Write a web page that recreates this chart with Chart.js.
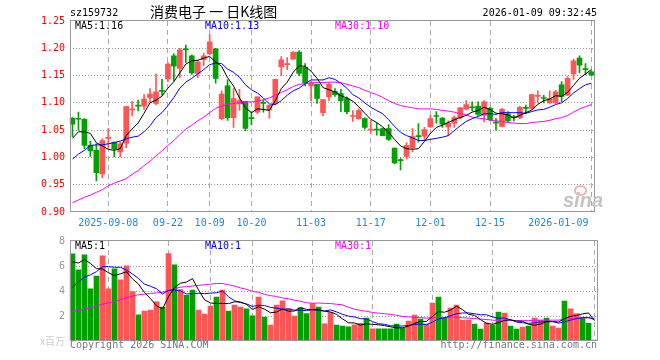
<!DOCTYPE html>
<html>
<head>
<meta charset="utf-8">
<script src="https://cdn.jsdelivr.net/npm/chart.js@4.4.1/dist/chart.umd.min.js"></script>
<style>
body { margin: 0; background: #fff; width: 660px; height: 360px; position: relative; overflow: hidden;
       font-family: "DejaVu Sans Mono", monospace; font-size: 10px; }
canvas { position: absolute; left: 0; top: 0; }
.t { position: absolute; white-space: nowrap; line-height: 12px; }
</style>
</head>
<body>
<canvas id="kline" width="660" height="360"></canvas>
<canvas id="vol" width="660" height="360"></canvas>

<div class="t" style="left:70px;top:7px;color:#000">sz159732</div>
<div class="t" style="left:150px;top:3px;font:14px/16px 'Noto Sans CJK SC';color:#000">消费电子 一 日K线图</div>
<div class="t" style="right:63px;top:7px;color:#000">2026-01-09 09:32:45</div>

<div class="t" style="left:75px;top:20px;color:#000">MA5:1.16</div>
<div class="t" style="left:205px;top:20px;color:#0000f0">MA10:1.13</div>
<div class="t" style="left:335px;top:20px;color:#f0f">MA30:1.10</div>

<div class="t" style="left:75px;top:240px;color:#000">MA5:1</div>
<div class="t" style="left:205px;top:240px;color:#0000f0">MA10:1</div>
<div class="t" style="left:335px;top:240px;color:#f0f">MA30:1</div>

<div class="t" style="left:70px;top:339px;color:#777">Copyright 2026 SINA.COM</div>
<div class="t" style="right:63px;top:339px;color:#777">http://finance.sina.com.cn</div>

<div style="position:absolute;left:574px;top:185px;width:9px;height:7px;border:2px solid #f4b0b0;border-radius:50%"></div>
<div class="t" style="left:563px;top:190px;font:italic bold 20px/20px 'Liberation Sans';color:#c4c4c4">sina</div>

<script>
// trading days shown
const dates = [
  '2025-08-29',
  '2025-09-01','2025-09-02','2025-09-03','2025-09-04','2025-09-05',
  '2025-09-08','2025-09-09','2025-09-10','2025-09-11','2025-09-12',
  '2025-09-15','2025-09-16','2025-09-17','2025-09-18','2025-09-19',
  '2025-09-22','2025-09-23','2025-09-24','2025-09-25','2025-09-26',
  '2025-09-29','2025-09-30',
  '2025-10-09','2025-10-10',
  '2025-10-13','2025-10-14','2025-10-15','2025-10-16','2025-10-17',
  '2025-10-20','2025-10-21','2025-10-22','2025-10-23','2025-10-24',
  '2025-10-27','2025-10-28','2025-10-29','2025-10-30','2025-10-31',
  '2025-11-03','2025-11-04','2025-11-05','2025-11-06','2025-11-07',
  '2025-11-10','2025-11-11','2025-11-12','2025-11-13','2025-11-14',
  '2025-11-17','2025-11-18','2025-11-19','2025-11-20','2025-11-21',
  '2025-11-24','2025-11-25','2025-11-26','2025-11-27','2025-11-28',
  '2025-12-01','2025-12-02','2025-12-03','2025-12-04','2025-12-05',
  '2025-12-08','2025-12-09','2025-12-10','2025-12-11','2025-12-12',
  '2025-12-15','2025-12-16','2025-12-17','2025-12-18','2025-12-19',
  '2025-12-22','2025-12-23','2025-12-24','2025-12-25','2025-12-26',
  '2025-12-29','2025-12-30','2025-12-31',
  '2026-01-05','2026-01-06','2026-01-07','2026-01-08','2026-01-09'
];

// labelled dates on the x axis and their text
const tickDates = ['2025-09-08','2025-09-22','2025-10-09','2025-10-20','2025-11-03','2025-11-17','2025-12-01','2025-12-15','2026-01-09'];
const tickTexts = ['2025-09-08','09-22','10-09','10-20','11-03','11-17','12-01','12-15','2026-01-09           '];

const openP = [
  1.072,1.071,1.070,1.022,1.013,0.970,1.035,1.028,1.010,1.026,
  1.087,1.095,1.094,1.109,1.099,1.122,1.144,1.186,1.163,1.198,
  1.186,1.154,1.179,1.190,1.199,1.071,1.131,1.073,1.098,1.103,
  1.072,1.083,1.100,1.087,1.098,1.166,1.170,1.180,1.193,1.165,
  1.131,1.134,1.082,1.111,1.121,1.117,1.108,1.075,1.071,1.071,
  1.050,1.051,1.053,1.053,1.017,0.995,1.002,1.018,1.039,1.039,
  1.056,1.076,1.072,1.056,1.063,1.073,1.089,1.092,1.094,1.077,
  1.090,1.064,1.057,1.080,1.074,1.073,1.091,1.090,1.112,1.109,
  1.100,1.100,1.133,1.114,1.153,1.182,1.162,1.157
];
const highP = [
  1.073,1.083,1.071,1.030,1.025,1.034,1.053,1.028,1.028,1.094,
  1.103,1.105,1.115,1.126,1.153,1.143,1.174,1.190,1.200,1.206,
  1.188,1.178,1.191,1.225,1.200,1.122,1.142,1.126,1.125,1.103,
  1.083,1.111,1.105,1.096,1.143,1.185,1.183,1.194,1.196,1.172,
  1.140,1.134,1.106,1.137,1.126,1.125,1.111,1.086,1.089,1.073,
  1.068,1.063,1.054,1.060,1.017,0.999,1.027,1.053,1.062,1.055,
  1.077,1.084,1.073,1.067,1.076,1.092,1.104,1.102,1.102,1.104,
  1.092,1.071,1.090,1.084,1.077,1.094,1.096,1.116,1.122,1.114,
  1.122,1.123,1.139,1.148,1.180,1.186,1.172,1.158
];
const lowP = [
  1.038,1.050,1.016,1.002,0.957,0.963,1.019,1.001,1.001,1.018,
  1.076,1.085,1.088,1.101,1.096,1.114,1.139,1.140,1.146,1.174,
  1.152,1.146,1.168,1.188,1.136,1.069,1.068,1.055,1.086,1.049,
  1.060,1.080,1.083,1.072,1.096,1.150,1.161,1.180,1.150,1.131,
  1.103,1.099,1.076,1.104,1.112,1.084,1.080,1.066,1.070,1.052,
  1.044,1.041,1.040,1.031,0.988,0.977,0.997,1.010,1.028,1.031,
  1.055,1.063,1.055,1.040,1.055,1.071,1.087,1.085,1.077,1.065,
  1.068,1.050,1.056,1.065,1.067,1.071,1.080,1.088,1.100,1.100,
  1.099,1.099,1.102,1.113,1.143,1.155,1.151,1.150
];
const closeP = [
  1.061,1.070,1.022,1.012,0.972,1.031,1.036,1.016,1.025,1.093,
  1.088,1.094,1.107,1.116,1.120,1.121,1.171,1.167,1.197,1.197,
  1.155,1.175,1.186,1.212,1.145,1.116,1.073,1.108,1.104,1.053,
  1.071,1.111,1.099,1.096,1.143,1.179,1.171,1.193,1.154,1.136,
  1.136,1.108,1.106,1.134,1.115,1.104,1.084,1.076,1.086,1.055,
  1.051,1.050,1.040,1.033,0.990,0.994,1.022,1.038,1.038,1.051,
  1.071,1.075,1.061,1.063,1.073,1.091,1.097,1.091,1.079,1.102,
  1.069,1.063,1.088,1.067,1.073,1.092,1.090,1.115,1.113,1.108,
  1.108,1.120,1.112,1.145,1.177,1.169,1.161,1.151
];

// moving average lines
const ma5 = [
  1.035,1.047,1.047,1.044,1.027,1.021,1.015,1.013,1.016,1.040,
  1.052,1.063,1.081,1.100,1.105,1.112,1.127,1.139,1.155,1.171,
  1.177,1.178,1.182,1.185,1.175,1.167,1.146,1.131,1.109,1.091,
  1.082,1.089,1.088,1.086,1.104,1.126,1.138,1.156,1.168,1.167,
  1.158,1.145,1.128,1.124,1.120,1.113,1.109,1.103,1.093,1.081,
  1.070,1.064,1.056,1.046,1.033,1.021,1.016,1.015,1.016,1.029,
  1.044,1.055,1.059,1.064,1.069,1.073,1.077,1.083,1.086,1.092,
  1.088,1.081,1.080,1.078,1.072,1.077,1.082,1.087,1.097,1.104,
  1.107,1.113,1.112,1.119,1.132,1.145,1.153,1.161
];
const ma10 = [
  0.997,1.006,1.013,1.022,1.023,1.023,1.025,1.027,1.030,1.034,
  1.037,1.039,1.047,1.058,1.073,1.082,1.095,1.110,1.127,1.138,
  1.145,1.153,1.161,1.170,1.173,1.172,1.162,1.156,1.147,1.133,
  1.124,1.118,1.109,1.098,1.097,1.104,1.114,1.122,1.127,1.135,
  1.142,1.142,1.142,1.146,1.143,1.136,1.127,1.115,1.109,1.100,
  1.092,1.086,1.080,1.069,1.057,1.046,1.040,1.036,1.031,1.031,
  1.033,1.035,1.037,1.040,1.049,1.058,1.066,1.071,1.075,1.080,
  1.080,1.079,1.082,1.082,1.082,1.082,1.081,1.084,1.087,1.088,
  1.092,1.097,1.100,1.108,1.118,1.126,1.133,1.136
];
const ma30 = [
  0.917,0.922,0.927,0.931,0.936,0.941,0.948,0.953,0.957,0.961,
  0.969,0.976,0.985,0.993,1.003,1.012,1.022,1.031,1.042,1.052,
  1.059,1.067,1.074,1.082,1.090,1.094,1.097,1.099,1.100,1.101,
  1.102,1.103,1.106,1.109,1.114,1.119,1.124,1.130,1.134,1.135,
  1.137,1.137,1.137,1.138,1.138,1.137,1.134,1.131,1.128,1.123,
  1.119,1.115,1.110,1.104,1.099,1.095,1.093,1.091,1.089,1.089,
  1.089,1.088,1.086,1.085,1.083,1.080,1.078,1.074,1.072,1.071,
  1.068,1.067,1.066,1.064,1.063,1.062,1.062,1.064,1.065,1.066,
  1.068,1.071,1.073,1.077,1.083,1.089,1.093,1.097
];

// volume, millions
const volume = [
  6.97,5.70,6.90,4.18,5.20,6.82,4.18,5.78,4.90,6.02,
  3.96,2.10,2.40,2.48,3.14,2.72,7.00,6.10,4.12,3.66,
  4.08,2.48,2.16,2.80,3.52,4.08,2.40,2.88,2.72,2.58,
  2.02,3.52,1.92,1.28,2.88,3.22,2.60,2.00,2.65,2.20,
  3.00,2.72,1.38,2.28,1.28,1.20,1.14,1.30,1.42,1.83,
  0.97,0.97,0.97,0.97,1.36,1.04,1.60,2.08,1.76,1.36,
  3.04,3.52,1.84,2.64,2.88,1.68,1.68,1.36,0.96,1.44,
  1.28,2.32,2.24,1.20,0.96,1.12,1.20,1.84,1.68,1.84,
  1.20,1.04,3.20,2.58,2.20,1.85,1.42,0.08
];
const vma5 = [
  6.32,6.24,6.53,6.20,5.79,5.76,5.46,5.23,5.38,5.54,
  4.97,4.55,3.88,3.39,2.82,2.57,3.55,4.29,4.62,4.72,
  4.99,4.09,3.30,3.04,3.01,3.01,2.99,3.14,3.12,2.93,
  2.52,2.74,2.55,2.26,2.32,2.56,2.38,2.40,2.67,2.53,
  2.49,2.51,2.39,2.32,2.13,1.77,1.46,1.44,1.27,1.38,
  1.33,1.30,1.23,1.14,1.05,1.06,1.19,1.41,1.57,1.57,
  1.97,2.35,2.30,2.48,2.78,2.51,2.14,2.05,1.71,1.42,
  1.34,1.47,1.65,1.70,1.60,1.57,1.34,1.26,1.36,1.54,
  1.55,1.52,1.79,1.97,2.04,2.17,2.25,1.63
];
const vma10 = [
  4.30,4.75,5.10,5.30,5.55,5.95,5.95,5.90,5.90,5.67,
  5.36,5.00,4.55,4.38,4.18,3.77,4.05,4.08,4.00,3.77,
  3.78,3.82,3.79,3.83,3.86,4.00,3.54,3.22,3.08,2.97,
  2.76,2.87,2.84,2.69,2.63,2.54,2.56,2.47,2.47,2.43,
  2.53,2.45,2.39,2.49,2.33,2.13,1.99,1.92,1.79,1.76,
  1.55,1.38,1.34,1.21,1.21,1.20,1.24,1.32,1.36,1.31,
  1.52,1.77,1.86,2.02,2.18,2.24,2.25,2.18,2.10,2.10,
  1.93,1.81,1.85,1.70,1.51,1.46,1.41,1.46,1.53,1.57,
  1.56,1.43,1.53,1.67,1.79,1.86,1.89,1.71
];
const vma30 = [
  2.35,2.45,2.55,2.65,2.80,2.95,3.05,3.15,3.30,3.45,
  3.60,3.70,3.75,3.80,3.85,3.90,4.05,4.20,4.30,4.35,
  4.40,4.45,4.50,4.55,4.60,4.60,4.50,4.40,4.25,4.13,
  3.97,3.90,3.73,3.63,3.56,3.44,3.38,3.26,3.18,3.06,
  3.02,3.04,3.01,3.00,2.94,2.89,2.70,2.54,2.45,2.38,
  2.28,2.23,2.19,2.13,2.06,1.96,1.93,1.90,1.87,1.83,
  1.86,1.86,1.86,1.91,1.91,1.86,1.83,1.80,1.75,1.72,
  1.67,1.65,1.68,1.64,1.63,1.63,1.63,1.65,1.66,1.66,
  1.67,1.67,1.74,1.80,1.83,1.85,1.85,1.78
];

const RED = '#ff5555';
const GREEN = '#00a000';
const candleColors = closeP.map((c, i) => c >= openP[i] ? RED : GREEN);

Chart.defaults.font.family = '"DejaVu Sans Mono", monospace';
Chart.defaults.font.size = 10;

// grey box round each panel
const framePlugin = {
    id: 'frame',
    afterDraw(chart) {
        const a = chart.chartArea;
        const ctx = chart.ctx;
        const x1 = Math.floor(a.left) + 1.5, x2 = Math.floor(a.right) + 0.5;
        const y1 = Math.round(a.top) - 0.5, y2 = Math.round(a.bottom) - 0.5;
        ctx.save();
        ctx.strokeStyle = '#999';
        ctx.lineWidth = 1;
        ctx.strokeRect(x1, y1, x2 - x1, y2 - y1);
        ctx.restore();
    }
};

function xGridColor(ctx) {
    if (ctx.index === undefined) return 'transparent';
    return tickDates.includes(dates[ctx.index]) ? '#aaa' : 'transparent';
}

function maLine(data, colour) {
    return {
        type: 'line',
        data: data,
        borderColor: colour,
        borderWidth: 1,
        pointRadius: 0,
        tension: 0,
        order: 0
    };
}

// price panel
new Chart(document.getElementById('kline'), {
    type: 'bar',
    data: {
        labels: dates,
        datasets: [
            maLine(ma5, '#000'),
            maLine(ma10, '#0000ff'),
            maLine(ma30, '#ff00ff'),
            {
                data: openP.map((o, i) => [o, closeP[i]]),
                backgroundColor: candleColors,
                barThickness: 5,
                minBarLength: 1,
                grouped: false,
                order: 1
            },
            {
                data: lowP.map((l, i) => [l, highP[i]]),
                backgroundColor: candleColors,
                barThickness: 1,
                grouped: false,
                order: 2
            }
        ]
    },
    options: {
        responsive: false,
        animation: false,
        layout: { padding: { left: 0.5, right: 62.5, top: 21, bottom: 128 } },
        plugins: { legend: { display: false }, tooltip: { enabled: false } },
        scales: {
            x: {
                afterFit: (s) => { s.height = 20; },
                grid: { color: xGridColor, offset: false, drawTicks: false },
                border: { display: false, dash: [5, 4] },
                ticks: {
                    autoSkip: false,
                    maxRotation: 0,
                    padding: 5,
                    color: '#1a8ad8',
                    callback: function (v, i) {
                        const k = tickDates.indexOf(dates[i]);
                        return k >= 0 ? tickTexts[k] : '';
                    }
                }
            },
            y: {
                min: 0.90,
                max: 1.25,
                afterFit: (s) => { s.width = 69; },
                grid: {
                    drawTicks: false,
                    color: (ctx) => (ctx.tick && (ctx.tick.value > 0.901 && ctx.tick.value < 1.249)) ? '#999' : 'transparent'
                },
                border: { display: false, dash: [1, 2] },
                ticks: {
                    stepSize: 0.05,
                    padding: 4.5,
                    color: '#f00',
                    callback: (v) => Number(v).toFixed(2)
                }
            }
        }
    },
    plugins: [framePlugin]
});

// volume panel
new Chart(document.getElementById('vol'), {
    type: 'bar',
    data: {
        labels: dates,
        datasets: [
            maLine(vma5, '#000'),
            maLine(vma10, '#0000ff'),
            maLine(vma30, '#ff00ff'),
            {
                data: volume,
                backgroundColor: candleColors,
                barThickness: 5,
                order: 1
            }
        ]
    },
    options: {
        responsive: false,
        animation: false,
        layout: { padding: { left: 0.5, right: 62.5, top: 241, bottom: 19 } },
        plugins: { legend: { display: false }, tooltip: { enabled: false } },
        scales: {
            x: {
                afterFit: (s) => { s.height = 0; },
                grid: { color: xGridColor, offset: false, drawTicks: false },
                border: { display: false, dash: [5, 4] },
                ticks: { display: false }
            },
            y: {
                min: 0,
                max: 8,
                afterFit: (s) => { s.width = 69; },
                grid: {
                    drawTicks: false,
                    color: (ctx) => (ctx.tick && ctx.tick.value > 0 && ctx.tick.value < 8) ? '#999' : 'transparent'
                },
                border: { display: false, dash: [1, 2] },
                ticks: {
                    stepSize: 2,
                    padding: 4.5,
                    color: (ctx) => ctx.tick && ctx.tick.value === 0 ? '#ccc' : '#999',
                    font: (ctx) => ctx.tick && ctx.tick.value === 0
                        ? { family: '"Noto Sans CJK SC"', size: 10 }
                        : { family: '"DejaVu Sans Mono"', size: 10 },
                    callback: (v) => v === 0 ? 'x百万' : String(v)
                }
            }
        }
    },
    plugins: [framePlugin]
});
</script>
</body>
</html>
